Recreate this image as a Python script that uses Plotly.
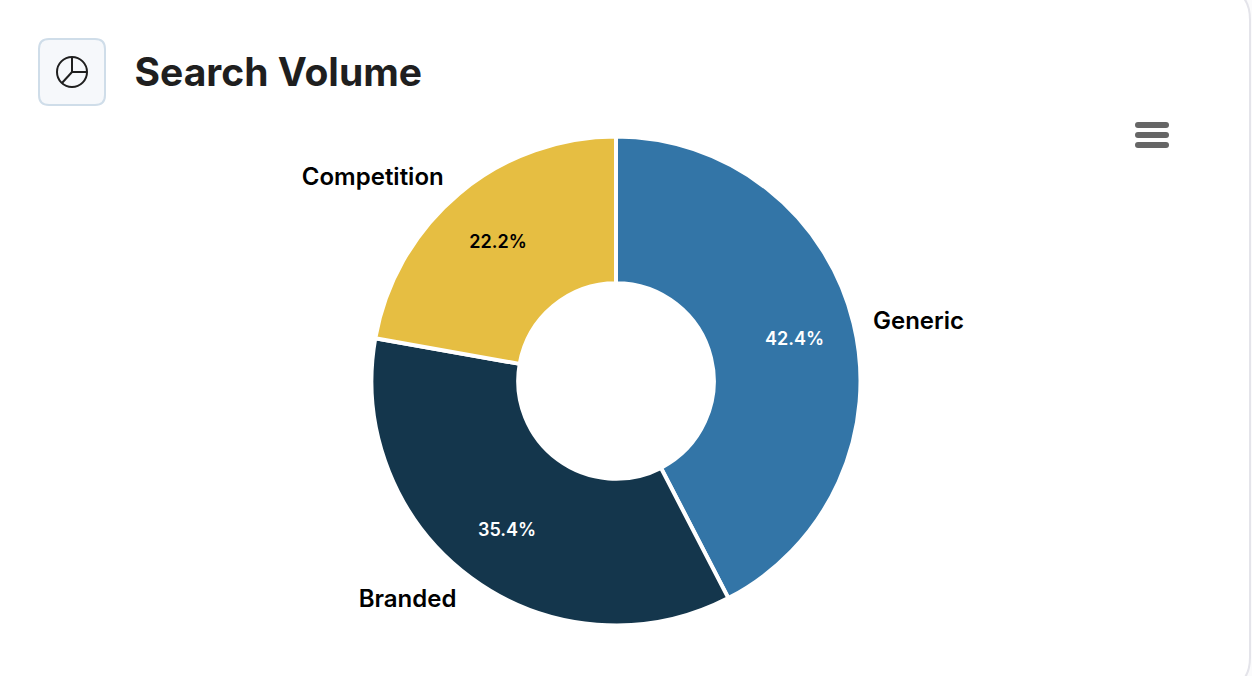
import plotly.graph_objects as go

W = 1252
H = 676

labels = ['Generic', 'Branded', 'Competition']
shares = [42.4, 35.4, 22.2]
colors = ['#3375a7', '#14364c', '#e6be42']
pct_colors = ['#ffffff', '#ffffff', '#000000']

FONT = 'Inter'
CX, CY = 616, 381
CLEAR = ['rgba(0,0,0,0)'] * 3


def px(x):
    return x / W


def py(y):
    return 1 - y / H


def ring_domain(r, cy=CY):
    return dict(x=[px(CX - r), px(CX + r)], y=[py(cy + r), py(cy - r)])


def rounded(x0, y0, x1, y1, r):
    # rounded rectangle path, pixels -> paper
    pts = [
        f'M {px(x0 + r)} {py(y0)}', f'L {px(x1 - r)} {py(y0)}', f'Q {px(x1)} {py(y0)} {px(x1)} {py(y0 + r)}',
        f'L {px(x1)} {py(y1 - r)}', f'Q {px(x1)} {py(y1)} {px(x1 - r)} {py(y1)}',
        f'L {px(x0 + r)} {py(y1)}', f'Q {px(x0)} {py(y1)} {px(x0)} {py(y1 - r)}',
        f'L {px(x0)} {py(y0 + r)}', f'Q {px(x0)} {py(y0)} {px(x0 + r)} {py(y0)}', 'Z',
    ]
    return ' '.join(pts)


def box(path, fill, line=None, width=0):
    return dict(type='path', path=path, xref='paper', yref='paper', fillcolor=fill,
                line=dict(color=line or fill, width=width), layer='below')


def seg(x0, y0, x1, y1):
    return dict(type='line', xref='paper', yref='paper', x0=px(x0), y0=py(y0), x1=px(x1), y1=py(y1),
                line=dict(color='#1f1f1f', width=2))


fig = go.Figure()

# the ring itself
fig.add_trace(go.Pie(
    labels=labels, values=shares, sort=False, direction='clockwise', rotation=0, hole=0.4,
    domain=ring_domain(244.5), marker=dict(colors=colors, line=dict(color='#ffffff', width=4)),
    textinfo='none', showlegend=False, automargin=False,
))

# percent labels, see-through layer so they sit further out than mid-ring
fig.add_trace(go.Pie(
    labels=labels, values=shares, sort=False, direction='clockwise', rotation=0, hole=0.5,
    domain=ring_domain(245, CY + 1), marker=dict(colors=CLEAR, line=dict(width=0)),
    texttemplate='%{value:.1f}%', textposition='inside', insidetextorientation='horizontal',
    insidetextfont=dict(family=FONT, size=18, color=pct_colors, weight=600),
    showlegend=False, automargin=False, hoverinfo='skip',
))

# category names outside, same trick
fig.add_trace(go.Pie(
    labels=labels, values=shares, sort=False, direction='clockwise', rotation=0, hole=0.41,
    domain=ring_domain(257, CY + 1), marker=dict(colors=CLEAR, line=dict(width=0)),
    textinfo='label', textposition='outside',
    outsidetextfont=dict(family=FONT, size=24, color='#000000', weight=600),
    showlegend=False, automargin=False, hoverinfo='skip',
))

shapes = [
    box(rounded(-20, -12, 1250, 689, 32), '#ffffff', '#e4e4ea', 2),
    box(rounded(39, 39, 105, 105, 10), '#f6f8fb', '#cfdde9', 2),
    dict(type='circle', xref='paper', yref='paper', x0=px(57), y0=py(57), x1=px(87), y1=py(87),
         line=dict(color='#1f1f1f', width=2)),
    seg(72, 57, 72, 72),
    seg(72, 72, 87, 72),
    seg(72, 72, 62, 83),
    box(rounded(1135, 122, 1169, 128, 3), '#666666'),
    box(rounded(1135, 132, 1169, 138, 3), '#666666'),
    box(rounded(1135, 142, 1169, 148, 3), '#666666'),
]

fig.update_layout(
    width=W, height=H, margin=dict(l=0, r=0, t=0, b=0),
    paper_bgcolor='#fbfbfc', plot_bgcolor='#ffffff', shapes=shapes,
    title=dict(text='Search Volume', x=px(134.5), xanchor='left', xref='paper',
               y=py(72), yanchor='middle', yref='container',
               font=dict(family=FONT, size=39, color='#1f1f1f', weight=700)),
)

fig.write_html('out.html', config=dict(displayModeBar=False),
               post_script="document.body.style.margin='0';document.body.style.overflow='hidden';")
